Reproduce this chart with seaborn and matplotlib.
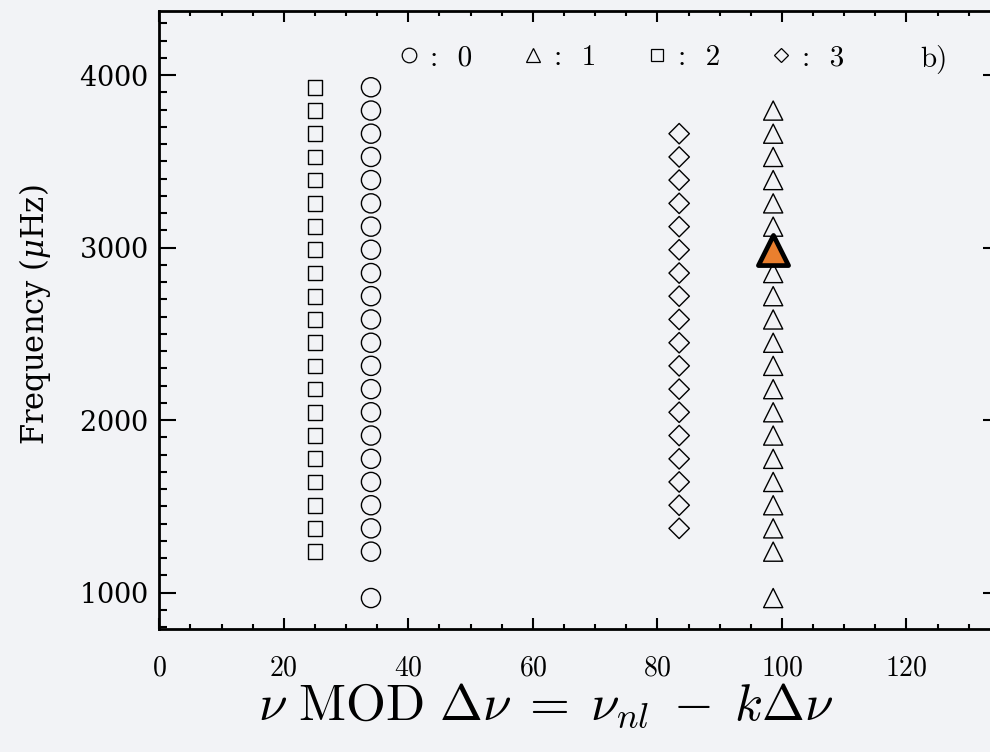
import matplotlib
matplotlib.use("Agg")
import matplotlib.pyplot as plt
import seaborn as sns
import pandas as pd
from matplotlib.lines import Line2D
from matplotlib.ticker import MultipleLocator

# Echelle diagram: mode frequencies folded on the large separation
large_sep = 135.0

# frequency modulo the large separation for each angular degree (muHz)
mod_l0 = 34.0
mod_l1 = 98.6
mod_l2 = 25.0
mod_l3 = 83.5

# mode frequencies (muHz)
freq_l0 = [3930, 3795, 3661, 3526, 3392, 3257, 3122, 2988, 2853, 2719, 2584,
           2449, 2315, 2180, 2046, 1911, 1776, 1642, 1507, 1373, 1238, 969]
freq_l1 = [3795, 3661, 3526, 3392, 3257, 3122, 2988, 2853, 2719, 2584, 2449,
           2315, 2180, 2046, 1911, 1776, 1642, 1507, 1373, 1238, 969]
freq_l2 = [3930, 3795, 3661, 3526, 3392, 3257, 3122, 2988, 2853, 2719, 2584,
           2449, 2315, 2180, 2046, 1911, 1776, 1642, 1507, 1373, 1238]
freq_l3 = [3661, 3526, 3392, 3257, 3122, 2988, 2853, 2719, 2584, 2449, 2315,
           2180, 2046, 1911, 1776, 1642, 1507, 1373]

# highlighted mode
hl_mod = 98.6
hl_freq = 2988

degree_labels = [":  0", ":  1", ":  2", ":  3"]

bg = "#f2f3f6"
sns.set_theme(style="ticks")
plt.rcParams["mathtext.fontset"] = "cm"
plt.rcParams["axes.formatter.use_mathtext"] = True
plt.rcParams["text.color"] = "black"
plt.rcParams["xtick.labelcolor"] = "black"
plt.rcParams["ytick.labelcolor"] = "black"

fig = plt.figure(figsize=(9.9, 7.52), dpi=100, facecolor=bg)
ax = fig.add_axes([0.1609, 0.1632, 0.849, 0.8226])
ax.set_facecolor(bg)

series = [
    (mod_l0, freq_l0, "o", 190, 0),
    (mod_l1, freq_l1, "^", 190, 1),
    (mod_l2, freq_l2, "s", 112, 2),
    (mod_l3, freq_l3, "D", 108, 3),
]
for mod, freqs, mk, size, deg in series:
    df = pd.DataFrame({"mod": [mod] * len(freqs), "freq": freqs})
    sns.scatterplot(data=df, x="mod", y="freq", marker=mk, s=size,
                    facecolor="none", edgecolor="black", linewidth=1.0,
                    ax=ax, zorder=2)

sns.scatterplot(x=[hl_mod], y=[hl_freq], marker="^", s=470,
                color="#ea7f2e", edgecolor="black", linewidth=3.4,
                ax=ax, zorder=3)

ax.set_xlim(0, large_sep)
ax.set_ylim(788, 4374)
ax.set_xlabel("")
ax.set_ylabel("")

ax.xaxis.set_major_locator(MultipleLocator(20))
ax.xaxis.set_minor_locator(MultipleLocator(5))
ax.yaxis.set_major_locator(MultipleLocator(1000))
ax.yaxis.set_minor_locator(MultipleLocator(100))

for side in ax.spines.values():
    side.set_linewidth(2.0)
    side.set_color("black")

ax.tick_params(which="both", direction="in", top=True, right=True,
               color="black", width=1.5)
ax.tick_params(axis="y", which="major", length=12, pad=8,
               labelsize=19.5, labelfontfamily="DejaVu Serif")
ax.tick_params(axis="y", which="minor", length=6)
ax.tick_params(axis="x", which="major", length=8, pad=19,
               labelsize=20, labelfontfamily="cmr10")
ax.tick_params(axis="x", which="minor", length=3.5)

# degree key along the top of the panel
handles = [
    Line2D([], [], marker="o", ls="none", mfc="none", mec="black", ms=10.5, mew=0.9),
    Line2D([], [], marker="^", ls="none", mfc="none", mec="black", ms=10.5, mew=0.9),
    Line2D([], [], marker="s", ls="none", mfc="none", mec="black", ms=8, mew=0.9),
    Line2D([], [], marker="D", ls="none", mfc="none", mec="black", ms=7.3, mew=0.9),
]
ax.legend(handles, degree_labels, ncol=4, loc="center",
          bbox_to_anchor=(0.549, 0.9236), frameon=False,
          prop={"family": "cmr10", "size": 21}, handlelength=0.8,
          handletextpad=0.3, columnspacing=1.7)

ax.text(0.9215, 0.9203, "b)", transform=ax.transAxes, ha="center",
        va="center", fontsize=21, family="cmr10")

fig.text(546 / 990, 1 - 706 / 752,
         r"$\nu\ \mathrm{MOD}\ \Delta\nu\;=\;\nu_{nl}\;-\;k\Delta\nu$",
         ha="center", va="center", fontsize=37)
fig.text(35 / 990, 1 - 315 / 752, r"Frequency ($\mu$Hz)", rotation=90,
         ha="center", va="center", fontsize=22, family="DejaVu Serif",
         math_fontfamily="dejavuserif")

fig.savefig("out.png", dpi=100, facecolor=bg)
